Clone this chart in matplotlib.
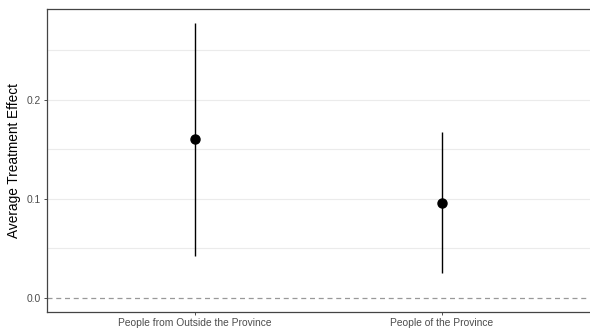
import numpy as np
import matplotlib.pyplot as plt

plt.rcParams['font.family'] = ['Liberation Sans', 'DejaVu Sans']

# Estimates and 95% intervals
groups = ['People from Outside the Province', 'People of the Province']
ate = [0.160, 0.0955]
ci_low = [0.0426, 0.0248]
ci_high = [0.2775, 0.1676]

x = np.arange(1, len(groups) + 1)
ate = np.array(ate)
err = [ate - np.array(ci_low), np.array(ci_high) - ate]

fig = plt.figure(figsize=(5.9, 3.31), dpi=100)
ax = fig.add_axes([47 / 590, 19.5 / 331, 545 / 590, 302.5 / 331])

# horizontal grid only, major and minor
for yv in [0.05, 0.1, 0.15, 0.2, 0.25]:
    ax.axhline(yv, color='#ebebeb', lw=0.8, zorder=0)
ax.axhline(0, color='#999999', lw=0.9, ls=(0, (4, 3)), zorder=1)

ax.errorbar(x, ate, yerr=err, fmt='o', color='black', ecolor='black',
            elinewidth=1.0, markersize=6.5, capsize=0, zorder=3)

ax.set_xlim(0.4, 2.61)
ax.set_ylim(-0.0139, 0.2914)
ax.set_xticks(x)
ax.set_xticklabels(groups)
ax.set_yticks([0.0, 0.1, 0.2])
ax.set_yticklabels(['0.0', '0.1', '0.2'])
ax.tick_params(axis='both', colors='#333333', labelcolor='#4d4d4d',
               labelsize=7.4, length=2.5, width=0.6, pad=2)
ax.set_ylabel('Average Treatment Effect', fontsize=9.8, color='black', labelpad=4)

for s in ax.spines.values():
    s.set_color('#444444')
    s.set_linewidth(0.9)

fig.savefig('out.png', dpi=100)
